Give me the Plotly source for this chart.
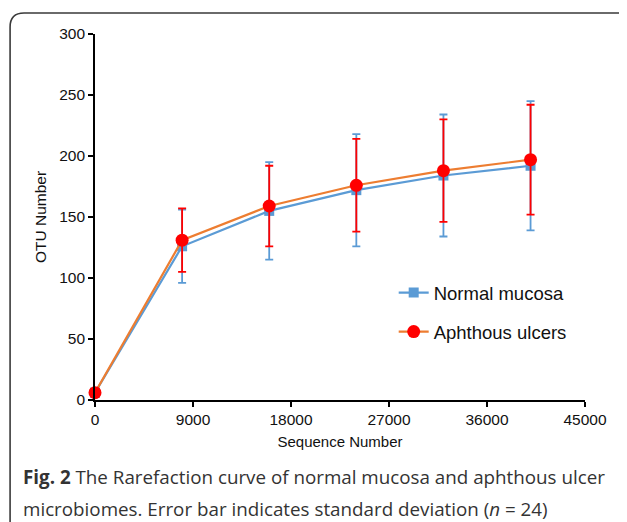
import plotly.graph_objects as go

# ---- data ----
seq_number = [0, 8000, 16000, 24000, 32000, 40000]
normal_otu = [6, 126, 155, 172, 184, 192]
normal_sd = [1, 30, 40, 46, 50, 53]
ulcer_otu = [6, 131, 159, 176, 188, 197]
ulcer_sd = [1, 26, 33, 38, 42, 45]
x_ticks = [0, 9000, 18000, 27000, 36000, 45000]
y_ticks = [0, 50, 100, 150, 200, 250, 300]

# the page body adds an 8px margin, so the figure is laid out 8px up/left
OFF = 8
W, H = 627 - OFF, 522 - OFF
L, R, T, B = 95 - OFF, 585.5 - OFF, 34 - OFF, 400 - OFF  # plot area (figure px)


def px(xp):  # page pixel -> paper x
    return (xp - OFF - L) / (R - L)


def py(yp):  # page pixel -> paper y
    return (B - (yp - OFF)) / (B - T)


fig = go.Figure()
fig.add_trace(go.Scatter(
    x=seq_number, y=normal_otu, name="Normal mucosa", mode="lines+markers",
    line=dict(color="#5B9BD5", width=2.2),
    marker=dict(symbol="square", size=10, color="#5B9BD5"),
    error_y=dict(type="data", array=normal_sd, visible=True, color="#5B9BD5",
                 thickness=1.8, width=4),
    legendgroup="a", cliponaxis=False,
))
fig.add_trace(go.Scatter(
    x=seq_number, y=ulcer_otu, name="Aphthous ulcers", mode="lines+markers",
    line=dict(color="#ED7D31", width=2.2),
    marker=dict(symbol="circle", size=13, color="#FF0000"),
    error_y=dict(type="data", array=ulcer_sd, visible=True, color="#FF0000",
                 thickness=1.8, width=4),
    legendgroup="b", cliponaxis=False,
))

font_family = "Arial, Liberation Sans, sans-serif"
axis_common = dict(
    showline=True, linecolor="#000000", linewidth=1.6,
    ticks="outside", ticklen=5, tickwidth=1.6, tickcolor="#000000",
    showgrid=False, zeroline=False,
    tickfont=dict(family=font_family, size=15.5, color="#111111"),
)

fig.update_xaxes(
    range=[0, 45000], tickvals=x_ticks, tickformat="d",
    title=dict(text="Sequence Number", standoff=9,
               font=dict(family=font_family, size=15, color="#111111")),
    **axis_common,
)
fig.update_yaxes(
    range=[0, 300], tickvals=y_ticks,
    title=dict(text="OTU Number", standoff=9,
               font=dict(family=font_family, size=15.5, color="#111111")),
    **axis_common,
)

fig.update_layout(
    width=W, height=H,
    margin=dict(l=L, r=W - R, t=T, b=H - B, pad=0),
    paper_bgcolor="white", plot_bgcolor="white",
    showlegend=True,
    legend=dict(
        x=px(394), y=py(274), xanchor="left", yanchor="top",
        bgcolor="rgba(0,0,0,0)", borderwidth=0,
        font=dict(family=font_family, size=18.5, color="#111111"),
        traceorder="grouped", tracegroupgap=12,
    ),
)

# rounded frame around figure + caption (extends past right and bottom edges)
r = 14
fig.add_shape(
    type="path", xref="paper", yref="paper",
    path=(f"M {px(10)} {py(560)} L {px(10)} {py(13 + r)} "
          f"Q {px(10)} {py(13)} {px(10 + r)} {py(13)} L {px(680)} {py(13)}"),
    line=dict(color="#3a3a3a", width=1.6),
)

cap_font = dict(family="Open Sans, sans-serif", size=18.8, color="#333333")
fig.add_annotation(
    xref="paper", yref="paper", x=px(21), y=py(477), xanchor="left", yanchor="middle",
    text="<b>Fig. 2</b> The Rarefaction curve of normal mucosa and aphthous ulcer",
    showarrow=False, font=cap_font,
)
fig.add_annotation(
    xref="paper", yref="paper", x=px(21), y=py(509), xanchor="left", yanchor="middle",
    text="microbiomes. Error bar indicates standard deviation (<i>n</i> = 24)",
    showarrow=False, font=cap_font,
)

fig.write_html("out.html")
